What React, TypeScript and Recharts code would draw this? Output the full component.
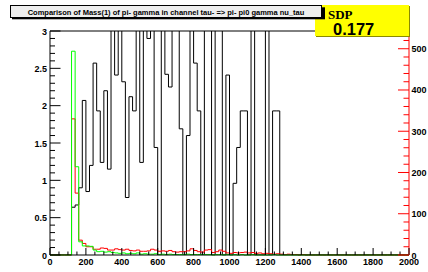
import React from 'react';
import { ComposedChart, Line, XAxis, YAxis, ReferenceLine } from 'recharts';

// bin width of all three histograms (MeV), 100 bins from 0 to 2000
const BIN_WIDTH = 20;

// black histogram (left axis), bins above 3 are clipped by the frame
const BLACK = [
  0, 0, 0, 0, 0, 0, 0.64, 0.67, 0.9, 2.07,
  0.85, 1.2, 2.57, 1.93, 1.24, 2.2, 1.15, 3.5, 2.41, 3.5,
  2.32, 0.77, 2.12, 1.93, 3.5, 1.24, 3.5, 2.9, 3.5, 1.44,
  0, 3.5, 2.42, 2.25, 3.5, 3.5, 1.69, 0, 1.6, 3.5,
  2.57, 1.93, 0, 3.5, 3.5, 0, 3.5, 3.5, 0, 2.41,
  0, 0.96, 1.44, 1.93, 1.93, 0, 3.5, 0, 0, 0,
  3.5, 0, 1.93, 1.93, 0, 0, 0, 0, 0, 0,
  0, 0, 0, 0, 0, 0, 0, 0, 0, 0,
  0, 0, 0, 0, 0, 0, 0, 0, 0, 0,
  0, 0, 0, 0, 0, 0, 0, 0, 0, 0,
];

// red histogram (right axis)
const RED = [
  0, 0, 0, 0, 0, 0, 330, 150, 36, 28,
  20, 20, 14, 14, 17, 16, 12, 12, 15, 13,
  12, 14, 11, 10, 12, 9, 9, 10, 14, 12,
  9, 10, 9, 11, 8, 7, 8, 8, 10, 15,
  11, 8, 7, 12, 13, 6, 8, 12, 9, 5,
  4, 6, 5, 6, 7, 5, 6, 4, 5, 3,
  4, 3, 2, 3, 2, 1, 2, 1, 1, 0,
  1, 0, 0, 0, 0, 0, 0, 0, 0, 0,
  0, 0, 0, 0, 0, 0, 0, 0, 0, 0,
  0, 0, 0, 0, 0, 0, 0, 0, 0, 0,
];

// green histogram (right axis)
const GREEN = [
  0, 0, 0, 0, 0, 0, 494, 214, 32, 22,
  22, 21, 12, 8, 9, 7, 8, 6, 5, 4,
  5, 3, 4, 3, 5, 2, 3, 2, 2, 3,
  1, 2, 1, 2, 1, 1, 1, 1, 2, 1,
  1, 1, 1, 1, 1, 0, 1, 1, 0, 1,
  0, 1, 0, 1, 0, 0, 1, 0, 0, 0,
  0, 0, 1, 0, 0, 0, 0, 0, 0, 0,
  0, 0, 0, 0, 0, 0, 0, 0, 0, 0,
  0, 0, 0, 0, 0, 0, 0, 0, 0, 0,
  0, 0, 0, 0, 0, 0, 0, 0, 0, 0,
];

const X_LABELS = [0, 200, 400, 600, 800, 1000, 1200, 1400, 1600, 1800, 2000];
const LEFT_LABELS = ['0', '0.5', '1', '1.5', '2', '2.5', '3'];
const RIGHT_LABELS = [0, 100, 200, 300, 400, 500];
const RIGHT_MAX = 543;

const TITLE = 'Comparison of Mass(1) of pi- gamma in channel tau- => pi- pi0 gamma nu_tau';
const BOX_LABEL = 'SDP';
const BOX_VALUE = '0.177';

const W = 428;
const H = 272;
const PLOT_L = 50;
const PLOT_R = 409;
const PLOT_T = 31;
const PLOT_B = 255;
const FONT = '"Liberation Sans", Arial, Helvetica, sans-serif';

// step outline: one point per low edge plus the closing edge
const data = BLACK.map((b, i) => ({ x: i * BIN_WIDTH, black: b, red: RED[i], green: GREEN[i] }));
data.push({ x: BLACK.length * BIN_WIDTH, black: BLACK[BLACK.length - 1], red: RED[RED.length - 1], green: GREEN[GREEN.length - 1] });

const xTicks: number[] = [];
for (let v = 0; v <= 2000; v += 50) xTicks.push(v);
const leftTicks: number[] = [];
for (let k = 0; k <= 30; k++) leftTicks.push(Math.round(k) / 10);
const rightTicks: number[] = [];
for (let v = 0; v <= 540; v += 20) rightTicks.push(v);

const XTick = (props: any) => {
  const { x, payload } = props;
  const v = payload.value;
  const major = X_LABELS.includes(v);
  return (
    <g>
      <line x1={x} x2={x} y1={PLOT_B} y2={PLOT_B - (major ? 7 : 3.5)} stroke="#000" />
      {major && (
        <text x={x} y={PLOT_B + 9.5} textAnchor="middle" fontFamily={FONT} fontWeight="bold" fontSize={9} fill="#000">
          {v}
        </text>
      )}
    </g>
  );
};

const LeftTick = (props: any) => {
  const { y, payload } = props;
  const v = payload.value;
  const idx = Math.round(v * 2);
  const major = Math.abs(v * 2 - idx) < 1e-6;
  return (
    <g>
      <line x1={PLOT_L} x2={PLOT_L + (major ? 10.5 : 5)} y1={y} y2={y} stroke="#000" />
      {major && (
        <text x={PLOT_L - 3} y={y + 3.5} textAnchor="end" fontFamily={FONT} fontWeight="bold" fontSize={9} fill="#000">
          {LEFT_LABELS[idx]}
        </text>
      )}
    </g>
  );
};

const RightTick = (props: any) => {
  const { y, payload } = props;
  const v = payload.value;
  const major = RIGHT_LABELS.includes(v);
  return (
    <g>
      <line x1={PLOT_R} x2={PLOT_R - (major ? 11 : 5.5)} y1={y} y2={y} stroke="#ff0000" />
      {major && (
        <text x={PLOT_R + 2.5} y={y + 3.5} textAnchor="start" fontFamily={FONT} fontWeight="bold" fontSize={9} fill="#000">
          {v}
        </text>
      )}
    </g>
  );
};

export default function App() {
  return (
    <div style={{ position: 'absolute', left: 0, top: 0, width: W, height: H, background: '#fff', overflow: 'hidden' }}>
      <ComposedChart
        width={W}
        height={H}
        data={data}
        margin={{ top: PLOT_T, right: 0, bottom: 0, left: 0 }}
      >
        <XAxis
          dataKey="x"
          type="number"
          domain={[0, 2000]}
          ticks={xTicks}
          interval={0}
          height={H - PLOT_B}
          tickLine={false}
          axisLine={{ stroke: '#000' }}
          tick={<XTick />}
        />
        <YAxis
          yAxisId="left"
          type="number"
          domain={[0, 3]}
          allowDataOverflow
          ticks={leftTicks}
          interval={0}
          width={PLOT_L}
          tickLine={false}
          axisLine={{ stroke: '#000' }}
          tick={<LeftTick />}
        />
        <YAxis
          yAxisId="right"
          orientation="right"
          type="number"
          domain={[0, RIGHT_MAX]}
          ticks={rightTicks}
          interval={0}
          width={W - PLOT_R}
          tickLine={false}
          axisLine={{ stroke: '#ff0000' }}
          tick={<RightTick />}
        />
        <ReferenceLine yAxisId="left" y={3} stroke="#000" ifOverflow="visible" />
        <Line yAxisId="left" dataKey="black" type="stepAfter" stroke="#000" strokeWidth={1} dot={false} isAnimationActive={false} />
        <Line yAxisId="right" dataKey="red" type="stepAfter" stroke="#ff0000" strokeWidth={1} dot={false} isAnimationActive={false} />
        <Line yAxisId="right" dataKey="green" type="stepAfter" stroke="#00ff00" strokeWidth={1} dot={false} isAnimationActive={false} />
      </ComposedChart>
      <svg width={W} height={H} style={{ position: 'absolute', left: 0, top: 0, pointerEvents: 'none' }}>
        <rect x={316} y={6} width={94} height={31} fill="#8a8a00" />
        <rect x={315} y={5} width={94} height={31} fill="#ffff00" />
        <text x={328} y={18.5} fontFamily='"Liberation Serif", "Times New Roman", serif' fontWeight="bold" fontSize={13} fill="#000">
          {BOX_LABEL}
        </text>
        <text x={333} y={35} fontFamily={FONT} fontWeight="bold" fontSize={16.5} fill="#000">
          {BOX_VALUE}
        </text>
        <rect x={12} y={7.3} width={313} height={12} fill="#000" />
        <rect x={10.5} y={5.5} width={311} height={12} fill="#eeeeee" stroke="#000" />
        <text x={166} y={14.8} textAnchor="middle" fontFamily={FONT} fontWeight="bold" fontSize={7.5} fill="#000">
          {TITLE}
        </text>
      </svg>
    </div>
  );
}
